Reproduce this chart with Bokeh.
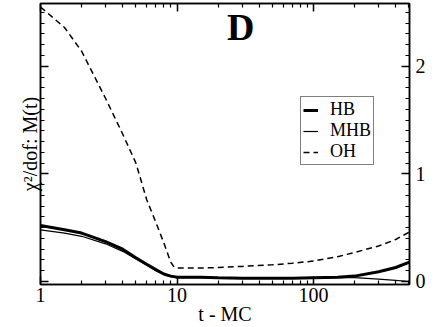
from bokeh.plotting import figure
from bokeh.models import (Range1d, LinearAxis, LogAxis, FixedTicker, Label, LogScale,
                          Legend, LegendItem, ColumnDataSource, CustomJSTickFormatter,
                          BasicTickFormatter)
from bokeh.embed import file_html
from bokeh.resources import INLINE

# ---- data ----
t = [1, 1.5, 2, 3, 4, 5, 6, 7, 8, 9, 9.5, 10, 15, 20, 30, 50, 70, 100, 150, 200, 300, 400, 505]
oh = [2.55, 2.36, 2.14, 1.70, 1.37, 1.10, 0.76, 0.55, 0.36, 0.18, 0.135, 0.125, 0.125, 0.13, 0.14,
      0.155, 0.17, 0.19, 0.23, 0.27, 0.33, 0.39, 0.46]
hb = [0.52, 0.48, 0.45, 0.37, 0.30, 0.22, 0.16, 0.11, 0.07, 0.05, 0.045, 0.04, 0.04, 0.035, 0.03,
      0.03, 0.03, 0.035, 0.04, 0.05, 0.09, 0.13, 0.18]
mhb = [0.48, 0.45, 0.42, 0.35, 0.28, 0.21, 0.15, 0.10, 0.065, 0.045, 0.04, 0.035, 0.035, 0.033, 0.03,
       0.03, 0.03, 0.033, 0.035, 0.035, 0.022, 0.01, 0.0]
x_major = [1, 10, 100]
x_minor = [2, 3, 4, 5, 6, 7, 8, 9, 20, 30, 40, 50, 60, 70, 80, 90, 200, 300, 400, 500]
y_major = [0, 1, 2]
y_minor = [i / 10 for i in range(0, 26)]
x_label = "t - MC"
y_label = "χ²/dof: M(t)"
panel = "D"

SERIF = "Liberation Serif"

p = figure(width=436, height=327,
           x_range=Range1d(1, 505), y_range=Range1d(-0.028, 2.583),
           output_backend="svg", toolbar_location=None,
           min_border_left=40, min_border_right=27, min_border_top=3, min_border_bottom=42)
p.x_scale = LogScale()
p.xaxis.visible = False
p.yaxis.visible = False
p.grid.visible = False
p.outline_line_color = "black"
p.outline_line_width = 1.5
p.background_fill_color = "white"
p.border_fill_color = "white"

xt = FixedTicker(ticks=x_major, minor_ticks=x_minor)
yt = FixedTicker(ticks=y_major, minor_ticks=y_minor)
blank = CustomJSTickFormatter(code="return ''")


def style(ax, labels):
    ax.axis_line_color = "black"
    ax.axis_line_width = 1.5
    ax.major_tick_in = 8
    ax.major_tick_out = 0
    ax.minor_tick_in = 4
    ax.minor_tick_out = 0
    ax.major_tick_line_width = 1.5
    ax.minor_tick_line_width = 1.2
    ax.major_label_text_font = SERIF
    ax.major_label_text_color = "black"
    ax.major_label_text_font_size = "20px"
    if labels:
        ax.formatter = BasicTickFormatter()
        ax.major_label_standoff = 3
    else:
        ax.formatter = blank
        ax.major_label_standoff = 0
    ax.axis_label_text_font = SERIF
    ax.axis_label_text_font_style = "normal"
    ax.axis_label_text_font_size = "20px"
    ax.axis_label_text_color = "black"


bx = LogAxis(ticker=xt, axis_label=x_label)
style(bx, True)
bx.axis_label_standoff = -2
tx = LogAxis(ticker=xt)
style(tx, False)
ly = LinearAxis(ticker=yt, axis_label=y_label)
style(ly, False)
ly.axis_label_standoff = 0
ry = LinearAxis(ticker=yt)
style(ry, True)
ry.major_label_standoff = 6
p.add_layout(bx, "below")
p.add_layout(tx, "above")
p.add_layout(ly, "left")
p.add_layout(ry, "right")

src = ColumnDataSource(dict(t=t, oh=oh, hb=hb, mhb=mhb))
r_hb = p.line("t", "hb", source=src, line_color="black", line_width=3)
r_mhb = p.line("t", "mhb", source=src, line_color="black", line_width=1.2)
r_oh = p.line("t", "oh", source=src, line_color="black", line_width=1.5, line_dash="6 4")

legend = Legend(items=[LegendItem(label="HB", renderers=[r_hb]),
                       LegendItem(label="MHB", renderers=[r_mhb]),
                       LegendItem(label="OH", renderers=[r_oh])],
                location=(260, 119))
legend.label_text_font = SERIF
legend.label_text_font_size = "18px"
legend.label_text_color = "black"
legend.label_height = 14
legend.glyph_height = 14
legend.glyph_width = 15
legend.label_standoff = 12
legend.spacing = 0
legend.padding = 2
legend.margin = 0
legend.border_line_color = "black"
legend.border_line_width = 1.2
legend.background_fill_color = "white"
legend.background_fill_alpha = 1
p.add_layout(legend)

p.add_layout(Label(x=29.3, y=2.36, text=panel, text_font=SERIF, text_font_style="bold",
                   text_font_size="38px", text_align="center", text_baseline="alphabetic",
                   text_color="black"))

open("out.html", "w").write(file_html(p, INLINE))
